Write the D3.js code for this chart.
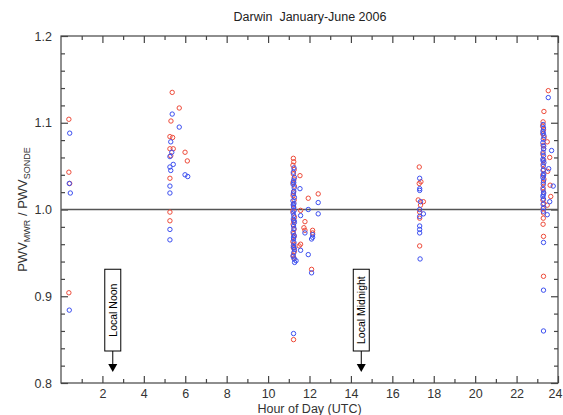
<!DOCTYPE html>
<html><head><meta charset="utf-8">
<script src="https://cdn.jsdelivr.net/npm/d3@7"></script>
<style>
body{margin:0;background:#fff;}
svg{display:block;font-family:"Liberation Sans",Arial,Helvetica,sans-serif;}
</style></head>
<body><svg id="c" width="563" height="415"></svg>
<script>
const title = "Darwin  January-June 2006";
const xLabel = "Hour of Day (UTC)";
const xMajorTicks = [2,4,6,8,10,12,14,16,18,20,22,24];
const xMinorTicks = [1,3,5,7,9,11,13,15,17,19,21,23];
const yMajorTicks = [0.8,0.9,1.0,1.1,1.2];
const yMinorTicks = [0.82,0.84,0.86,0.88,0.92,0.94,0.96,0.98,1.02,1.04,1.06,1.08,1.12,1.14,1.16,1.18];
const annotations = [{hour:2.5,text:"Local Noon"},{hour:14.5,text:"Local Midnight"}];
const referenceRatio = 1.0;

// [hour UTC, PWV_MWR/PWV_SONDE]
const redPoints = [
 [0.38,1.104],[0.38,1.043],[0.42,1.030],[0.38,0.904],
 [5.37,1.135],[5.71,1.117],[5.31,1.102],[5.26,1.084],[5.39,1.083],[5.26,1.070],[5.42,1.070],
 [5.99,1.066],[6.10,1.056],[5.30,1.062],[5.26,1.036],[5.26,0.997],[5.26,0.987],
 [11.22,1.059],[11.24,1.055],[11.20,1.051],[11.26,1.046],[11.22,1.041],[11.25,1.035],[11.20,1.031],
 [11.27,1.027],[11.23,1.020],[11.21,1.016],[11.26,1.011],[11.22,1.006],[11.24,1.002],[11.20,0.998],
 [11.27,0.991],[11.23,0.987],[11.21,0.983],[11.25,0.977],[11.22,0.972],[11.26,0.969],[11.20,0.963],
 [11.24,0.960],[11.22,0.956],[11.27,0.952],[11.21,0.947],[11.25,0.944],[11.23,0.850],
 [11.54,1.039],[11.94,1.013],[12.42,1.018],[11.57,0.999],[11.78,0.986],[11.73,0.979],[11.78,0.976],
 [12.15,0.976],[11.57,0.960],[12.10,0.931],[12.15,0.973],[11.50,0.958],
 [17.30,1.049],[17.38,1.032],[17.30,1.030],[17.25,1.011],[17.50,1.009],[17.36,1.005],[17.32,0.997],
 [17.32,0.990],[17.32,0.958],
 [23.53,1.137],[23.32,1.113],[23.28,1.101],[23.26,1.096],[23.30,1.092],[23.27,1.087],[23.33,1.083],
 [23.48,1.078],[23.28,1.074],[23.30,1.070],[23.60,1.060],[23.27,1.064],[23.31,1.057],[23.28,1.052],
 [23.30,1.046],[23.50,1.044],[23.27,1.040],[23.32,1.035],[23.29,1.031],[23.62,1.028],[23.28,1.025],
 [23.30,1.020],[23.65,1.015],[23.27,1.011],[23.31,1.007],[23.48,1.005],[23.28,1.001],[23.30,0.996],
 [23.29,0.990],[23.28,0.983],[23.30,0.969],[23.30,0.923]
];
const bluePoints = [
 [0.42,1.088],[0.40,1.030],[0.45,1.019],[0.40,0.884],
 [5.37,1.110],[5.71,1.095],[5.30,1.078],[5.35,1.066],[5.26,1.061],[5.42,1.052],[5.26,1.049],
 [5.30,1.045],[5.99,1.040],[6.12,1.038],[5.26,1.027],[5.26,1.019],[5.26,0.977],[5.26,0.965],
 [11.25,1.048],[11.22,1.043],[11.27,1.037],[11.23,1.033],[11.21,1.029],[11.26,1.025],[11.24,1.021],
 [11.22,1.018],[11.27,1.014],[11.20,1.010],[11.25,1.007],[11.23,1.003],[11.26,0.999],[11.21,0.996],
 [11.24,0.993],[11.22,0.989],[11.27,0.985],[11.23,0.981],[11.25,0.978],[11.21,0.974],[11.26,0.970],
 [11.23,0.966],[11.25,0.962],[11.22,0.958],[11.27,0.954],[11.24,0.950],[11.21,0.946],[11.26,0.943],
 [11.23,0.857],[11.24,1.031],[11.22,1.005],[11.26,0.987],[11.23,0.968],[11.25,0.956],
 [11.54,1.024],[12.42,1.008],[11.94,1.000],[12.42,0.995],[11.57,0.993],[11.78,0.973],[12.15,0.971],
 [12.10,0.966],[11.57,0.953],[11.94,0.948],[12.10,0.927],[11.35,0.941],[11.28,0.939],[12.15,0.968],
 [17.32,1.036],[17.32,1.024],[17.32,1.022],[17.36,1.009],[17.32,1.000],[17.50,0.995],[17.32,0.992],
 [17.32,0.981],[17.32,0.977],[17.32,0.973],[17.34,0.943],
 [23.53,1.129],[23.28,1.098],[23.30,1.094],[23.27,1.090],[23.32,1.085],[23.29,1.081],[23.27,1.077],
 [23.31,1.073],[23.69,1.068],[23.28,1.066],[23.30,1.062],[23.27,1.058],[23.32,1.054],[23.29,1.050],
 [23.55,1.047],[23.28,1.045],[23.31,1.041],[23.27,1.037],[23.30,1.033],[23.29,1.029],[23.77,1.027],
 [23.28,1.023],[23.31,1.019],[23.27,1.015],[23.30,1.012],[23.60,1.009],[23.28,1.006],[23.31,1.002],
 [23.29,0.998],[23.48,0.994],[23.30,0.962],[23.30,0.907],[23.30,0.860],
 [23.29,1.088],[23.31,1.070],[23.28,1.056],[23.30,1.039],[23.29,1.017]
];

const svg = d3.select("#c");
const x = d3.scaleLinear().domain([0,24]).range([61,558]);
const y = d3.scaleLinear().domain([0.8,1.2]).range([383,36]);
const axisColor = "#444";

function styleAxis(g){
  g.select(".domain").remove();
  g.selectAll("line").attr("stroke",axisColor).attr("stroke-width",1.2);
  g.selectAll("text").attr("fill","#333").attr("font-size",12.5);
}

// frame
svg.append("rect").attr("x",x(0)).attr("y",y(1.2)).attr("width",x(24)-x(0)).attr("height",y(0.8)-y(1.2))
  .attr("fill","none").attr("stroke",axisColor).attr("stroke-width",1.2);

// bottom
const bx = svg.append("g").attr("transform",`translate(0,${y(0.8)})`)
  .call(d3.axisBottom(x).tickValues(xMajorTicks).tickSize(-7).tickPadding(6).tickFormat(d3.format("d"))).call(styleAxis);
bx.selectAll(".tick text").filter(d=>d===24).attr("dx",-3);
svg.append("g").attr("transform",`translate(0,${y(0.8)})`)
  .call(d3.axisBottom(x).tickValues(xMinorTicks).tickSize(-4).tickFormat("")).call(styleAxis);
// top
svg.append("g").attr("transform",`translate(0,${y(1.2)})`)
  .call(d3.axisTop(x).tickValues(xMajorTicks).tickSize(-7).tickFormat("")).call(styleAxis);
svg.append("g").attr("transform",`translate(0,${y(1.2)})`)
  .call(d3.axisTop(x).tickValues(xMinorTicks).tickSize(-4).tickFormat("")).call(styleAxis);
// left
svg.append("g").attr("transform",`translate(${x(0)},0)`)
  .call(d3.axisLeft(y).tickValues(yMajorTicks).tickSize(-7).tickPadding(9).tickFormat(d3.format(".1f"))).call(styleAxis);
svg.append("g").attr("transform",`translate(${x(0)},0)`)
  .call(d3.axisLeft(y).tickValues(yMinorTicks).tickSize(-4).tickFormat("")).call(styleAxis);
// right
svg.append("g").attr("transform",`translate(${x(24)},0)`)
  .call(d3.axisRight(y).tickValues(yMajorTicks).tickSize(-7).tickFormat("")).call(styleAxis);
svg.append("g").attr("transform",`translate(${x(24)},0)`)
  .call(d3.axisRight(y).tickValues(yMinorTicks).tickSize(-4).tickFormat("")).call(styleAxis);

// reference line
svg.append("line").attr("x1",x(0)).attr("x2",x(24)).attr("y1",y(referenceRatio)).attr("y2",y(referenceRatio))
  .attr("stroke","#555").attr("stroke-width",1.5);

// points
const r = 2.2;
svg.append("g").selectAll("circle").data(redPoints).join("circle")
  .attr("cx",d=>x(d[0])).attr("cy",d=>y(d[1])).attr("r",r)
  .attr("fill","none").attr("stroke","#ee4b3a").attr("stroke-width",1);
svg.append("g").selectAll("circle").data(bluePoints).join("circle")
  .attr("cx",d=>x(d[0])).attr("cy",d=>y(d[1])).attr("r",r)
  .attr("fill","none").attr("stroke","#3c4ff0").attr("stroke-width",1);

// annotations
const boxTop = y(0.9) - 27, boxBot = y(0.8) - 32, tip = y(0.8) - 11;
annotations.forEach(a=>{
  const cx = x(a.hour);
  const g = svg.append("g");
  g.append("rect").attr("x",cx-8).attr("y",boxTop).attr("width",16).attr("height",boxBot-boxTop)
    .attr("fill","#fff").attr("stroke","#000").attr("stroke-width",1);
  g.append("text").attr("transform",`translate(${cx+4},${(boxTop+boxBot)/2}) rotate(-90)`)
    .attr("text-anchor","middle").attr("font-size",10.5).attr("fill","#000").text(a.text);
  g.append("line").attr("x1",cx).attr("x2",cx).attr("y1",boxBot).attr("y2",tip-7)
    .attr("stroke","#000").attr("stroke-width",1);
  g.append("path").attr("d",`M${cx-4.5},${tip-8}L${cx+4.5},${tip-8}L${cx},${tip}Z`).attr("fill","#000");
});

// title
svg.append("text").attr("x",310).attr("y",21).attr("text-anchor","middle").attr("font-size",12.5)
  .style("white-space","pre").attr("fill","#222").text(title);
// x label
svg.append("text").attr("x",x(12)).attr("y",413).attr("text-anchor","middle").attr("font-size",12.5).attr("fill","#333").text(xLabel);
// y label
const yl = svg.append("text").attr("transform",`translate(27,${y(1.0)}) rotate(-90)`)
  .attr("text-anchor","middle").attr("font-size",13).attr("fill","#333");
yl.append("tspan").text("PWV");
yl.append("tspan").attr("font-size",9).attr("dy",3).text("MWR");
yl.append("tspan").attr("dy",-3).style("white-space","pre").text(" / PWV");
yl.append("tspan").attr("font-size",9).attr("dy",3).text("SONDE");
</script></body></html>
